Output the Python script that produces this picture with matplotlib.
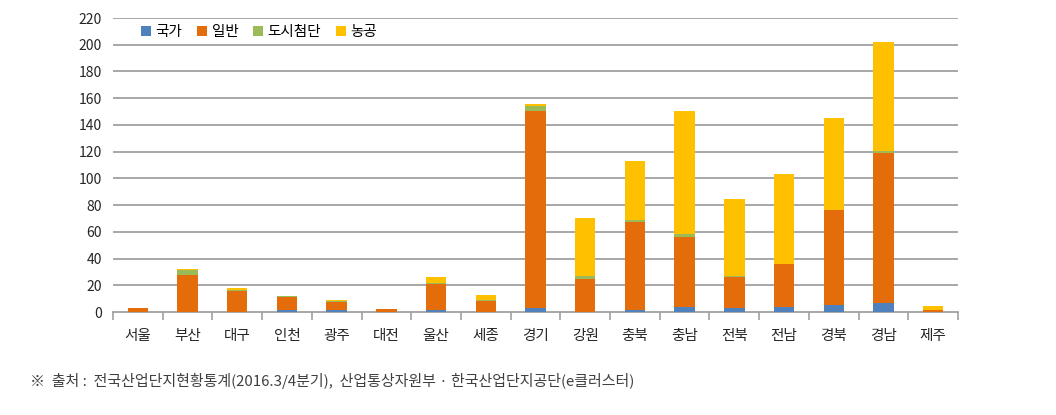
import matplotlib
matplotlib.use("Agg")
import matplotlib.pyplot as plt
import numpy as np
from matplotlib.patches import Patch

plt.rcParams['font.family'] = ['Noto Sans CJK KR', 'DejaVu Sans']

regions = ["서울", "부산", "대구", "인천", "광주", "대전", "울산", "세종", "경기",
           "강원", "충북", "충남", "전북", "전남", "경북", "경남", "제주"]
national = [0, 0, 0, 1.5, 1.5, 0, 1.5, 0, 3.3, 0, 1.5, 4, 3.3, 4, 5, 6.5, 0]
general = [3, 28, 15.7, 9.5, 5.8, 2.5, 19.5, 8, 147, 24.5, 66, 52.4, 22.9, 32.2, 71.6, 112.5, 1.7]
urban = [0, 3.5, 0.7, 1, 0.7, 0, 0.5, 0.7, 3.8, 2.5, 1.7, 2, 0.8, 0, 0, 1.8, 0]
agri = [0, 1, 1.5, 0, 1, 0, 4.5, 4.3, 1.3, 43.6, 43.6, 92, 57.6, 67.3, 68.8, 81.2, 2.5]
series_names = ["국가", "일반", "도시첨단", "농공"]
colors = ["#4F81BD", "#E46C0A", "#9BBB59", "#FFC000"]
yticks = list(range(0, 221, 20))
source = "※  출처 :  전국산업단지현황통계(2016.3/4분기),  산업통상자원부 · 한국산업단지공단(e클러스터)"

W, H = 1056, 415
fig = plt.figure(figsize=(W / 100, H / 100), dpi=100)
ax = fig.add_axes([113 / W, (H - 312) / H, (958 - 113) / W, (312 - 18) / H])

x = np.arange(len(regions))
bottom = np.zeros(len(regions))
for vals, c in zip([national, general, urban, agri], colors):
    v = np.array(vals, dtype=float)
    ax.bar(x, v, bottom=bottom, width=0.41, color=c, edgecolor='none', zorder=3)
    bottom += v

ax.set_xlim(-0.5, len(regions) - 0.5)
ax.set_ylim(0, 220)
ax.set_yticks(yticks)
ax.set_yticklabels([str(t) for t in yticks], fontsize=10, color='#262626')
ax.tick_params(axis='y', length=0, pad=8)
for t in yticks[1:]:
    ax.axhline(t, color='#a0a0a0', lw=1.3, zorder=1)

ax.set_xticks(np.arange(-0.5, len(regions)), minor=False)
ax.set_xticklabels([])
ax.tick_params(axis='x', which='major', length=6, color='#a0a0a0', width=1.2)
ax.set_xticks(x, minor=True)
ax.set_xticklabels(regions, minor=True, fontsize=10.5, color='#262626')
ax.tick_params(axis='x', which='minor', length=0, pad=12)

for s in ['left', 'top', 'right']:
    ax.spines[s].set_visible(False)
ax.spines['bottom'].set_color('#a0a0a0')
ax.spines['bottom'].set_linewidth(1.3)

handles = [Patch(facecolor=c, edgecolor='none') for c in colors]
fig.legend(handles, series_names, loc='center left', bbox_to_anchor=(128 / W, 1 - 32 / H),
           ncol=4, frameon=False, fontsize=10.5, handlelength=0.7, handleheight=0.7,
           handletextpad=0.3, columnspacing=1.0)

fig.text(30 / W, 1 - 381 / H, source, fontsize=10.8, color='#404040', va='center', ha='left')

fig.savefig("out.png", dpi=100)
